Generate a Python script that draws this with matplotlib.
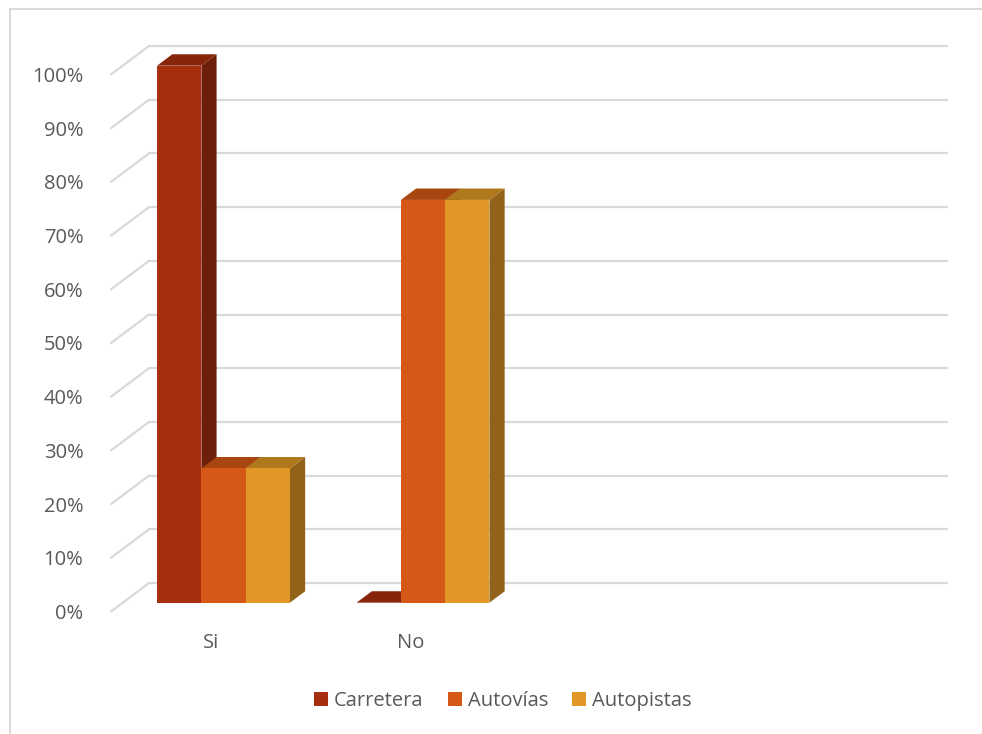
import matplotlib
matplotlib.use("Agg")
import matplotlib.pyplot as plt
from matplotlib.patches import Polygon, Patch, Rectangle
from matplotlib.lines import Line2D

# ---- data -------------------------------------------------------------
categories = ["Si", "No"]
series_names = ["Carretera", "Autovías", "Autopistas"]
carretera = [100, 0]
autovias = [25, 75]
autopistas = [25, 75]
series_values = [carretera, autovias, autopistas]
y_ticks = [0, 10, 20, 30, 40, 50, 60, 70, 80, 90, 100]
y_tick_labels = [f"{v}%" for v in y_ticks]
n_slots = 4  # category slots laid out along the floor

# ---- style -------------------------------------------------------------
front_colors = ["#A52F0E", "#D55817", "#E09726"]
top_colors = ["#862509", "#A9460F", "#AF781C"]
side_colors = ["#6E1F09", "#8F3A0E", "#916217"]
grid_color = "#D9D9D9"
text_color = "#595959"
plt.rcParams["font.family"] = ["Open Sans", "DejaVu Sans"]
fs = 14.5

W, H = 982, 734
fig = plt.figure(figsize=(W / 100, H / 100), dpi=100)

# axes placed so data x=0 / y=0 fall on the front plane of the chart
px_x0, px_cat = 111.0, 199.5      # pixel of x=0, pixels per category
px_y0, px_pct = 611.5, 5.37       # pixel (from top) of 0 %, pixels per percent
ax_l, ax_r, ax_t, ax_b = 100, 975, 25, 665
ax = fig.add_axes([ax_l / W, 1 - ax_b / H, (ax_r - ax_l) / W, (ax_b - ax_t) / H])
ax.set_xlim((ax_l - px_x0) / px_cat, (ax_r - px_x0) / px_cat)
ax.set_ylim((px_y0 - ax_b) / px_pct, (px_y0 - ax_t) / px_pct)
for s in ax.spines.values():
    s.set_visible(False)
ax.set_xticks([])
ax.set_yticks(y_ticks)
ax.set_yticklabels(y_tick_labels, color=text_color, fontsize=fs)
ax.tick_params(axis="y", length=0, pad=12)

# oblique depth of the floor (full wall depth) in data units
DX = 38 / px_cat
DY = 28.5 / px_pct

def depth(t):
    return t * DX, t * DY

# walls: side-wall diagonals + back-wall gridlines
x_end = n_slots + DX
for v in y_ticks:
    ax.add_line(Line2D([0, DX], [v, v + DY], color=grid_color, lw=1.6,
                       solid_capstyle="round", zorder=1))
    ax.add_line(Line2D([DX, x_end], [v + DY, v + DY], color=grid_color,
                       lw=1.6, solid_capstyle="round", zorder=1))

# columns: front face at depth t0, back at t1
t0, t1 = 0.31, 0.71
dx0, dy0 = depth(t0)
dx1, dy1 = depth(t1)
bw = 0.222
z = 3
for i, cat in enumerate(categories):
    for j, vals in enumerate(series_values):
        v = vals[i]
        xl = i + 0.505 + (j - 1) * bw - bw / 2 + dx0
        xr = xl + bw
        # right side face
        ax.add_patch(Polygon([(xr, dy0), (xr - dx0 + dx1, dy1),
                              (xr - dx0 + dx1, v + dy1), (xr, v + dy0)],
                             closed=True, fc=side_colors[j], ec="none", zorder=z))
        # top face
        ax.add_patch(Polygon([(xl, v + dy0), (xr, v + dy0),
                              (xr - dx0 + dx1, v + dy1), (xl - dx0 + dx1, v + dy1)],
                             closed=True, fc=top_colors[j], ec="none", zorder=z + 0.1))
        # front face
        ax.bar(xl, v, bottom=dy0, width=bw, align="edge",
               color=front_colors[j], edgecolor="none", zorder=z + 0.2)
        z += 1
    ax.text(i + 0.5, (px_y0 - 643) / px_pct, cat, ha="center", va="center",
            color=text_color, fontsize=fs)

# legend
handles = [Patch(facecolor=c, edgecolor="none") for c in front_colors]
fig.legend(handles, series_names, loc="center", bbox_to_anchor=(503 / W, 1 - 701 / H),
           ncol=3, frameon=False, fontsize=fs, labelcolor=text_color,
           handlelength=0.68, handleheight=0.68, handletextpad=0.3,
           columnspacing=1.2)

# chart-area border
fig.add_artist(Rectangle((9.5 / W, -0.05), 1.1, 1 - 8.5 / H + 0.05,
                         transform=fig.transFigure, fill=False,
                         ec=grid_color, lw=1.4, clip_on=False))

fig.savefig("out.png", dpi=100)
